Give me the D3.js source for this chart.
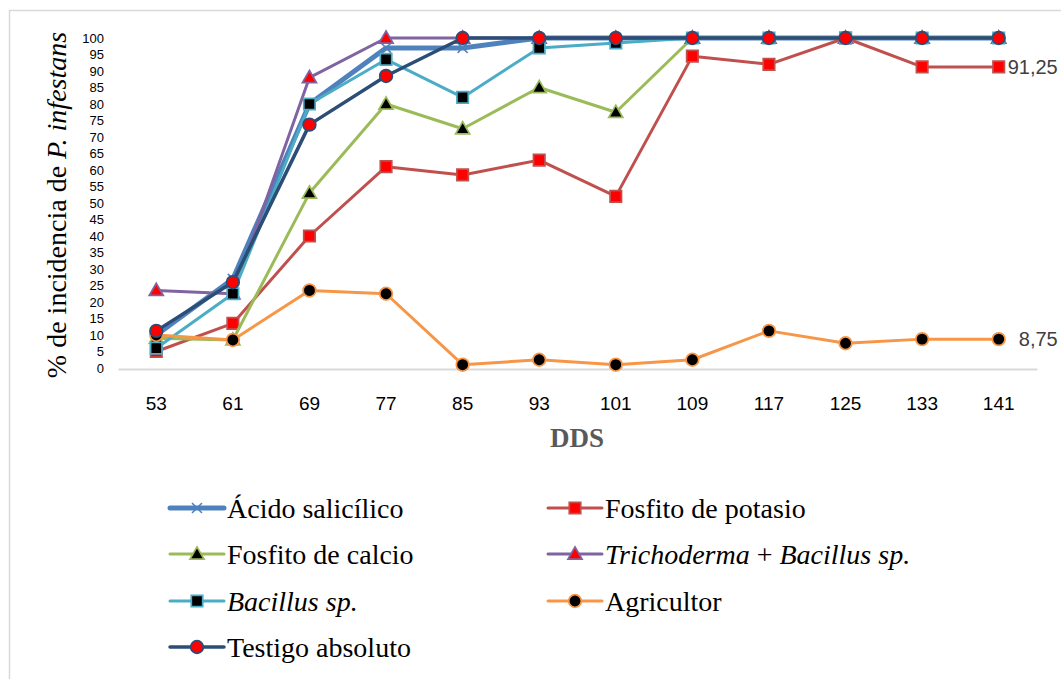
<!DOCTYPE html>
<html>
<head>
<meta charset="utf-8">
<script src="https://cdn.jsdelivr.net/npm/d3@7"></script>
<style>
  html, body { margin: 0; padding: 0; background: #fff; }
  svg { display: block; }
  .serif { font-family: "Liberation Serif", "Times New Roman", serif; }
</style>
</head>
<body>
<svg id="chart" width="1061" height="679"></svg>
<script>
// Days after sowing (DDS) and incidence (%) per treatment
const dds = ["53", "61", "69", "77", "85", "93", "101", "109", "117", "125", "133", "141"];
const yTicks = [0, 5, 10, 15, 20, 25, 30, 35, 40, 45, 50, 55, 60, 65, 70, 75, 80, 85, 90, 95, 100];

const acidoSalicilico     = [10, 27, 80, 97, 97, 100, 100, 100, 100, 100, 100, 100];
const fosfitoPotasio      = [5, 13.5, 40, 61, 58.5, 63, 52, 94.5, 92, 100, 91.25, 91.25];
const fosfitoCalcio       = [9, 8.5, 53, 80, 72.5, 85, 77.5, 100, 100, 100, 100, 100];
const trichodermaBacillus = [23.5, 22.5, 88, 100, 100, 100, 100, 100, 100, 100, 100, 100];
const bacillusSp          = [6, 22.5, 80, 93.5, 82, 97, 98.5, 100, 100, 100, 100, 100];
const agricultor          = [10, 8.5, 23.5, 22.5, 1, 2.5, 1, 2.5, 11.25, 7.5, 8.75, 8.75];
const testigoAbsoluto     = [11.25, 26, 73.75, 88.5, 100, 100, 100, 100, 100, 100, 100, 100];

const series = [
  { name: [{ t: "Ácido salicílico" }], values: acidoSalicilico,
    line: "#4F81BD", width: 5, marker: "x", fill: "none", stroke: "#4F81BD" },
  { name: [{ t: "Fosfito de potasio" }], values: fosfitoPotasio,
    line: "#C0504D", width: 3, marker: "square", fill: "#FF0000", stroke: "#C0504D" },
  { name: [{ t: "Fosfito de calcio" }], values: fosfitoCalcio,
    line: "#9BBB59", width: 3, marker: "triangle", fill: "#000000", stroke: "#9BBB59" },
  { name: [{ t: "Trichoderma", i: true }, { t: " + " }, { t: "Bacillus sp.", i: true }], values: trichodermaBacillus,
    line: "#8064A2", width: 3, marker: "triangle", fill: "#FF0000", stroke: "#8064A2" },
  { name: [{ t: "Bacillus sp.", i: true }], values: bacillusSp,
    line: "#4BACC6", width: 3, marker: "square", fill: "#000000", stroke: "#4BACC6" },
  { name: [{ t: "Agricultor" }], values: agricultor,
    line: "#F79646", width: 3, marker: "circle", fill: "#000000", stroke: "#F79646" },
  { name: [{ t: "Testigo absoluto" }], values: testigoAbsoluto,
    line: "#2C4D75", width: 3.5, marker: "circle", fill: "#FF0000", stroke: "#2C4D75" }
];

// Series whose last value carries a data label
const labelled = ["Fosfito de potasio", "Agricultor"];

const svg = d3.select("#chart");

// Chart frame
svg.append("rect")
  .attr("x", 9.5).attr("y", 10.5)
  .attr("width", 1200).attr("height", 800)
  .attr("fill", "#fff").attr("stroke", "#D9D9D9").attr("stroke-width", 1.5);

const x = d3.scaleBand().domain(dds).range([118, 1037]);
const y = d3.scaleLinear().domain([0, 100]).range([368, 38]);
const cx = d => x(d) + x.bandwidth() / 2;

// Y axis: labels only
const yAxis = d3.axisLeft(y).tickValues(yTicks).tickSize(0).tickPadding(0);
const gy = svg.append("g").attr("transform", "translate(104,0)").call(yAxis);
gy.select(".domain").remove();
gy.attr("font-family", null).attr("font-size", null);
gy.selectAll("text")
  .style("font-family", "'Liberation Sans', Arial, sans-serif")
  .style("font-size", "13px").attr("fill", "#000");

// X axis
const xAxis = d3.axisBottom(x).tickSize(0).tickPadding(0);
const gx = svg.append("g").attr("transform", "translate(0,369)").call(xAxis);
gx.attr("font-family", null).attr("font-size", null);
gx.select(".domain").attr("stroke", "#D9D9D9").attr("stroke-width", 2);
gx.selectAll("text")
  .attr("dy", 0).attr("y", 41)
  .style("font-family", "'Liberation Sans Narrow', 'Arial Narrow', sans-serif")
  .style("font-size", "19px").attr("fill", "#000");

// Axis titles
svg.append("text")
  .attr("class", "serif")
  .attr("transform", "translate(66,205) rotate(-90)")
  .attr("text-anchor", "middle")
  .style("font-size", "28px").attr("fill", "#000")
  .call(t => {
    t.append("tspan").text("% de incidencia de ");
    t.append("tspan").style("font-style", "italic").text("P. infestans");
  });

svg.append("text")
  .attr("class", "serif")
  .attr("x", 577).attr("y", 447)
  .attr("text-anchor", "middle")
  .style("font-weight", "bold")
  .style("font-size", "27px").attr("fill", "#595959")
  .text("DDS");

// Marker drawing
function drawMarker(g, s, px, py) {
  if (s.marker === "x") {
    const r = 5;
    g.append("path")
      .attr("d", `M${px - r},${py - r}L${px + r},${py + r}M${px - r},${py + r}L${px + r},${py - r}`)
      .attr("stroke", s.stroke).attr("stroke-width", 1.5).attr("fill", "none");
  } else {
    const type = s.marker === "square" ? d3.symbolSquare
               : s.marker === "triangle" ? d3.symbolTriangle : d3.symbolCircle;
    const size = s.marker === "square" ? 130 : s.marker === "triangle" ? 85 : 125;
    g.append("path")
      .attr("d", d3.symbol().type(type).size(size)())
      .attr("transform", `translate(${px},${py + (s.marker === "triangle" ? 1 : 0)})`)
      .attr("fill", s.fill).attr("stroke", s.stroke).attr("stroke-width", 1.75);
  }
}

const line = d3.line().x((d, i) => cx(dds[i])).y(d => y(d));

const plot = svg.append("g");
series.forEach(s => {
  const g = plot.append("g");
  g.append("path")
    .datum(s.values)
    .attr("d", line)
    .attr("fill", "none")
    .attr("stroke", s.line)
    .attr("stroke-width", s.width)
    .attr("stroke-linejoin", "round")
    .attr("stroke-linecap", "round");
  s.values.forEach((v, i) => drawMarker(g, s, cx(dds[i]), y(v)));
});

// Data labels on the last point
const fmt = v => String(v).replace(".", ",");
series.filter(s => labelled.includes(s.name.map(n => n.t).join(""))).forEach(s => {
  const last = s.values[s.values.length - 1];
  svg.append("text")
    .attr("x", cx(dds[dds.length - 1]) + 59)
    .attr("y", y(last))
    .attr("dy", "0.36em")
    .attr("text-anchor", "end")
    .style("font-family", "'Liberation Sans', Arial, sans-serif")
    .style("font-size", "20px").attr("fill", "#404040")
    .text(fmt(last));
});

// Legend, two columns
const legendCols = [170, 548];
const legendRows = [508, 554, 601, 647];
series.forEach((s, i) => {
  const lx = legendCols[i % 2];
  const ly = legendRows[Math.floor(i / 2)];
  const g = svg.append("g");
  g.append("line")
    .attr("x1", lx).attr("x2", lx + 54)
    .attr("y1", ly).attr("y2", ly)
    .attr("stroke", s.line).attr("stroke-width", s.width)
    .attr("stroke-linecap", "round");
  drawMarker(g, s, lx + 27, ly);
  const t = g.append("text")
    .attr("class", "serif")
    .attr("x", lx + 57).attr("y", ly)
    .attr("dy", "0.35em")
    .style("font-size", "28px").attr("fill", "#000");
  s.name.forEach(part => {
    t.append("tspan")
      .attr("class", "serif")
      .style("font-style", part.i ? "italic" : "normal")
      .text(part.t);
  });
});
</script>
</body>
</html>
